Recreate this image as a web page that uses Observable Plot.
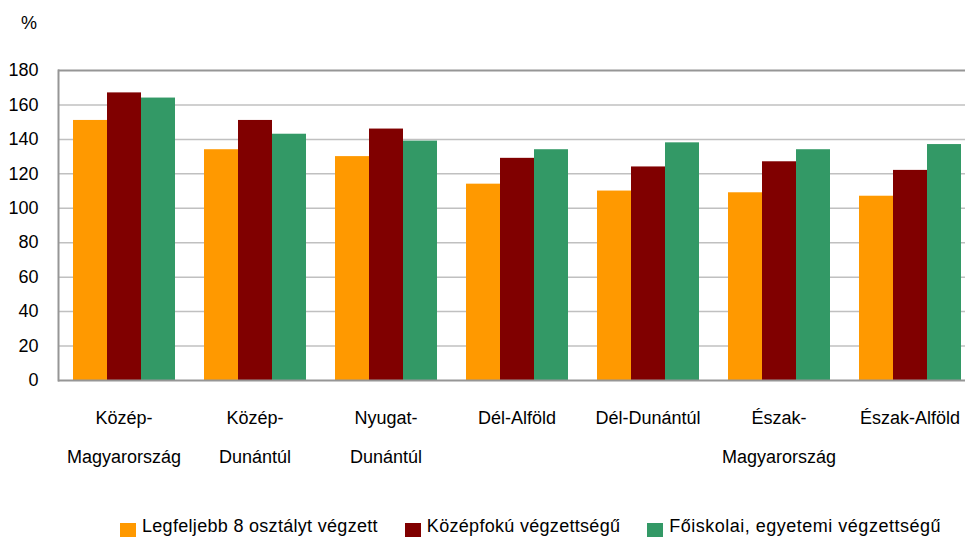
<!DOCTYPE html>
<html><head><meta charset="utf-8">
<script src="https://cdn.jsdelivr.net/npm/d3@7"></script>
<script src="https://cdn.jsdelivr.net/npm/@observablehq/plot@0.6"></script>
<style>
body{margin:0;background:#fff;font-family:"Liberation Sans",Arial,sans-serif;color:#000;}
#wrap{position:relative;width:965px;height:539px;overflow:hidden;}
#pct{position:absolute;left:21px;top:13px;font-size:18px;line-height:20px;}
#chart{position:absolute;left:0;top:0;}
#legend{position:absolute;left:120px;top:515px;font-size:18px;line-height:22px;white-space:nowrap;letter-spacing:0.3px;}
#legend .item{display:inline-block;margin-right:27px;}
#legend .item:last-child{letter-spacing:0.5px;}
#legend .sw{display:inline-block;width:16px;height:14px;margin-right:6px;vertical-align:baseline;margin-bottom:-5px;}
</style></head><body>
<div id="wrap"><div id="chart"></div><div id="pct">%</div><div id="legend"></div></div>
<script>
const regions = ["Közép-Magyarország","Közép-Dunántúl","Nyugat-Dunántúl","Dél-Alföld","Dél-Dunántúl","Észak-Magyarország","Észak-Alföld"];
const regionLabels = ["Közép-\nMagyarország","Közép-\nDunántúl","Nyugat-\nDunántúl","Dél-Alföld","Dél-Dunántúl","Észak-\nMagyarország","Észak-Alföld"];
const series = ["Legfeljebb 8 osztályt végzett","Középfokú végzettségű","Főiskolai, egyetemi végzettségű"];
const lowEdu = [151,134,130,114,110,109,107];
const midEdu = [167,151,146,129,124,127,122];
const highEdu = [164,143,139,134,138,134,137];
const yTicks = [0,20,40,60,80,100,120,140,160,180];
const colors = ["#FF9900","#800000","#339966"];

const values = [lowEdu, midEdu, highEdu];
const table = [];
regions.forEach((r,i)=>series.forEach((s,j)=>table.push({region:r, series:s, value:values[j][i]})));

const chart = Plot.plot({
  width:965, height:500,
  marginLeft:58, marginRight:-10, marginTop:70, marginBottom:120,
  style:{fontFamily:'"Liberation Sans",Arial,sans-serif', fontSize:"18px", color:"#000", background:"transparent"},
  fx:{domain:regions, padding:0, label:null},
  x:{domain:series, paddingInner:0, paddingOuter:0.423, axis:null},
  y:{domain:[0,180]},
  color:{domain:series, range:colors},
  marks:[
    Plot.ruleY(yTicks.filter(t=>t>0&&t<180), {stroke:"#c0c0c0", strokeWidth:1.5}),
    Plot.barY(table, {fx:"region", x:"series", y:"value", fill:"series"}),
    Plot.ruleY([0,180], {stroke:"#969696", strokeWidth:2}),
    Plot.frame({anchor:"left", facetAnchor:"left", stroke:"#969696", strokeWidth:2}),
    Plot.axisY({ticks:yTicks, tickSize:0, tickPadding:20, label:null, fontSize:18}),
    Plot.axisFx({anchor:"bottom", tickSize:0, tickPadding:16, label:null, fontSize:18, lineHeight:2.17,
      tickFormat:d=>regionLabels[regions.indexOf(d)]})
  ]
});
document.getElementById("chart").appendChild(chart);

const lg = document.getElementById("legend");
series.forEach((s,i)=>{
  const it = document.createElement("span"); it.className="item";
  const sw = document.createElement("span"); sw.className="sw"; sw.style.background=colors[i];
  const tx = document.createElement("span"); tx.textContent=s;
  it.appendChild(sw); it.appendChild(tx); lg.appendChild(it);
});
</script>
</body></html>
